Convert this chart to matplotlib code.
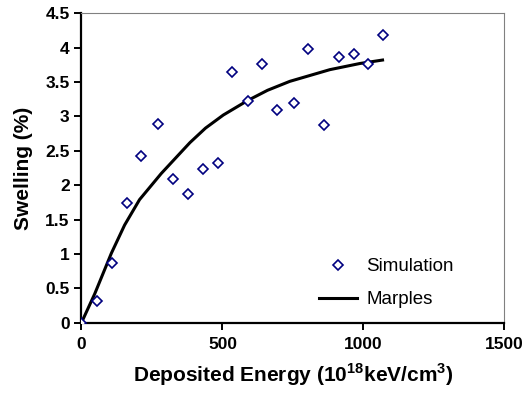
import matplotlib.pyplot as plt
import numpy as np

plt.rcParams['font.family'] = ['Liberation Sans', 'DejaVu Sans']
plt.rcParams['mathtext.fontset'] = 'custom'
plt.rcParams['mathtext.rm'] = 'Liberation Sans:bold'
plt.rcParams['mathtext.bf'] = 'Liberation Sans:bold'

# Simulation data points
sim_energy = [0, 54, 107, 160, 212, 270, 324, 377, 430, 483, 535, 589, 641,
              694, 753, 805, 859, 913, 965, 1018, 1070]
sim_swelling = [0.0, 0.31, 0.87, 1.74, 2.43, 2.89, 2.09, 1.87, 2.24, 2.32, 3.65,
                3.22, 3.76, 3.09, 3.20, 3.98, 2.87, 3.87, 3.91, 3.76, 4.19]

# Marples curve
marples_energy = [0, 47, 106, 153, 206, 283, 360, 385, 440, 503, 589, 660, 739,
                  881, 988, 1068]
marples_swelling = [0.0, 0.42, 1.01, 1.42, 1.79, 2.17, 2.51, 2.62, 2.83, 3.02,
                    3.23, 3.38, 3.51, 3.68, 3.77, 3.82]

fig = plt.figure(figsize=(5.25, 3.93), dpi=100)
ax = fig.add_axes([0.1552, 0.1789, 0.8054, 0.7873])

ax.plot(sim_energy, sim_swelling, linestyle='none', marker='D', markersize=5,
        markerfacecolor='white', markeredgecolor='#000080', markeredgewidth=1.2,
        label='Simulation', zorder=3)
ax.plot(marples_energy, marples_swelling, color='black', linewidth=2.2,
        label='Marples', zorder=2)

ax.set_xlim(0, 1500)
ax.set_ylim(0, 4.5)
ax.set_xticks([0, 500, 1000, 1500])
ax.set_yticks(np.arange(0, 4.51, 0.5))
ax.set_yticklabels(['0', '0.5', '1', '1.5', '2', '2.5', '3', '3.5', '4', '4.5'])

for side in ['left', 'bottom']:
    ax.spines[side].set_linewidth(1.6)
    ax.spines[side].set_color('black')
for side in ['top', 'right']:
    ax.spines[side].set_linewidth(0.8)
    ax.spines[side].set_color('#808080')

ax.tick_params(direction='out', length=5, width=1.4, labelsize=12.5)
ax.tick_params(axis='x', pad=5)
ax.tick_params(axis='y', pad=3.5)
for lab in ax.get_xticklabels() + ax.get_yticklabels():
    lab.set_fontweight('bold')

ax.set_xlabel('Deposited Energy (10$^{18}$keV/cm$^{3}$)', fontsize=15,
              fontweight='bold', labelpad=7)
ax.set_ylabel('Swelling (%)', fontsize=15, fontweight='bold', labelpad=9)

ax.legend(loc='lower right', bbox_to_anchor=(0.92, -0.008), frameon=False,
          fontsize=13.5, handlelength=2.0, handletextpad=0.5, labelspacing=0.85)

fig.savefig('out.png', dpi=100)
